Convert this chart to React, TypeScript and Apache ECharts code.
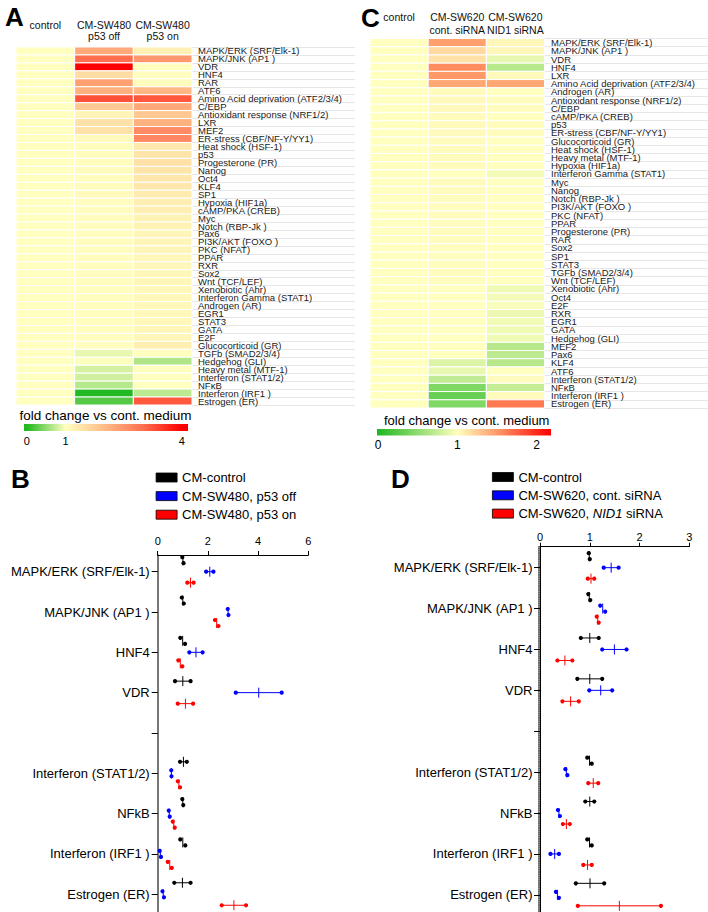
import React, { useEffect, useRef } from "react";
import * as echarts from "echarts";

const FF = '"Liberation Sans", Arial, Helvetica, sans-serif';

// ---------- Panel A (heatmap) ----------
const headersA = ["control\n ", "CM-SW480\np53 off", "CM-SW480\np53 on"];
const pathwaysA = [
  "MAPK/ERK (SRF/Elk-1)", "MAPK/JNK (AP1 )", "VDR", "HNF4", "RAR", "ATF6",
  "Amino Acid deprivation (ATF2/3/4)", "C/EBP", "Antioxidant response (NRF1/2)", "LXR", "MEF2",
  "ER-stress (CBF/NF-Y/YY1)", "Heat shock (HSF-1)", "p53", "Progesterone (PR)", "Nanog", "Oct4",
  "KLF4", "SP1", "Hypoxia (HIF1a)", "cAMP/PKA (CREB)", "Myc", "Notch (RBP-Jk )", "Pax6",
  "PI3K/AKT (FOXO )", "PKC (NFAT)", "PPAR", "RXR", "Sox2", "Wnt (TCF/LEF)", "Xenobiotic (Ahr)",
  "Interferon Gamma (STAT1)", "Androgen (AR)", "EGR1", "STAT3", "GATA", "E2F", "Glucocorticoid (GR)",
  "TGFb (SMAD2/3/4)", "Hedgehog (GLI)", "Heavy metal (MTF-1)", "Interferon (STAT1/2)", "NFκB",
  "Interferon (IRF1 )", "Estrogen (ER)"
];
const controlA = [1, 1, 1, 1, 1, 1, 1, 1, 1, 1, 1, 1, 1, 1, 1, 1, 1, 1, 1, 1, 1, 1, 1, 1, 1, 1, 1, 1, 1, 1, 1, 1, 1, 1, 1, 1, 1, 1, 1, 1, 1, 1, 1, 1, 1];
const p53offA = [2.26, 3.02, 4.0, 1.52, 2.37, 2.16, 3.29, 1.82, 1.16, 1.46, 1.46, 1.07, 1.03, 1.03, 1.03,
  1.06, 1.04, 1.06, 1.07, 1.05, 1.04, 1.04, 1.04, 1.03, 1.03, 1.04, 1.03, 1.03, 1.03, 1.03, 1.02, 1.02,
  1.02, 1.02, 1.02, 1.02, 1.02, 1.01, 0.9, 0.98, 0.81, 0.79, 0.67, 0.02, 0.24];
const p53onA = [1.22, 2.47, 1.0, 1.02, 1.04, 2.05, 3.21, 2.26, 1.82, 2.16, 2.66, 2.68, 1.34, 1.4, 1.46,
  1.4, 1.36, 1.36, 1.3, 1.25, 1.25, 1.2, 1.2, 1.15, 1.15, 1.15, 1.12, 1.12, 1.12, 1.12, 1.1, 1.1, 1.1,
  1.1, 1.1, 1.12, 1.12, 1.25, 1.02, 0.65, 1.02, 1.02, 1.0, 0.7, 3.21];
const colorTicksA = [0, 1, 4];
const stopsA: [number, string][] = [[0, "#1fb81f"], [1, "#ffffc0"], [2, "#ffbc88"], [3, "#ff7050"], [4, "#ff0000"]];

// ---------- Panel C (heatmap) ----------
const headersC = ["control\n ", "CM-SW620\ncont. siRNA", "CM-SW620\nNID1 siRNA"];
const pathwaysC = [
  "MAPK/ERK (SRF/Elk-1)", "MAPK/JNK (AP1 )", "VDR", "HNF4", "LXR", "Amino Acid deprivation (ATF2/3/4)",
  "Androgen (AR)", "Antioxidant response (NRF1/2)", "C/EBP", "cAMP/PKA (CREB)", "p53",
  "ER-stress (CBF/NF-Y/YY1)", "Glucocorticoid (GR)", "Heat shock (HSF-1)", "Heavy metal (MTF-1)",
  "Hypoxia (HIF1a)", "Interferon Gamma (STAT1)", "Myc", "Nanog", "Notch (RBP-Jk )", "PI3K/AKT (FOXO )",
  "PKC (NFAT)", "PPAR", "Progesterone (PR)", "RAR", "Sox2", "SP1", "STAT3", "TGFb (SMAD2/3/4)",
  "Wnt (TCF/LEF)", "Xenobiotic (Ahr)", "Oct4", "E2F", "RXR", "EGR1", "GATA", "Hedgehog (GLI)", "MEF2",
  "Pax6", "KLF4", "ATF6", "Interferon (STAT1/2)", "NFκB", "Interferon (IRF1 )", "Estrogen (ER)"
];
const controlC = [1, 1, 1, 1, 1, 1, 1, 1, 1, 1, 1, 1, 1, 1, 1, 1, 1, 1, 1, 1, 1, 1, 1, 1, 1, 1, 1, 1, 1, 1, 1, 1, 1, 1, 1, 1, 1, 1, 1, 1, 1, 1, 1, 1, 1];
const contSiC = [1.47, 1.19, 1.15, 1.56, 1.5, 1.43, 1.02, 1.03, 1.03, 1.02, 1.03, 1.03, 1.02, 1.02, 1.02,
  1.02, 1.0, 1.02, 1.02, 1.01, 1.01, 1.01, 1.01, 1.01, 1.01, 1.01, 1.01, 1.01, 1.01, 1.01, 1.0, 1.0, 1.0,
  1.0, 1.0, 1.0, 1.0, 1.0, 1.0, 0.84, 0.9, 0.72, 0.43, 0.32, 0.43];
const nid1SiC = [1.04, 1.04, 0.9, 0.68, 1.03, 1.43, 1.0, 1.01, 1.01, 1.0, 1.01, 1.01, 1.0, 1.0, 1.0,
  1.0, 0.95, 1.0, 1.0, 1.0, 1.0, 1.0, 1.0, 1.0, 1.0, 1.0, 1.0, 1.0, 1.0, 1.0, 0.93, 0.95, 0.97, 0.92,
  0.94, 0.93, 0.93, 0.68, 0.7, 0.68, 1.0, 1.02, 0.74, 1.02, 1.65];
const colorTicksC = [0, 1, 2];
const stopsC: [number, string][] = [[0, "#1fb81f"], [1, "#ffffc0"], [1.5, "#ff9a68"], [2.2, "#ff0000"]];

// ---------- Panel B (replicates) ----------
const catsB = ["MAPK/ERK (SRF/Elk-1)", "MAPK/JNK (AP1 )", "HNF4", "VDR", "", "Interferon (STAT1/2)", "NFkB", "Interferon (IRF1 )", "Estrogen (ER)"];
const seriesNamesB = ["CM-control", "CM-SW480, p53 off", "CM-SW480, p53 on"];
const ctrlB = [[0.98, 1.03], [0.96, 1.04], [0.9, 1.09], [0.69, 1.31], null, [0.89, 1.16], [0.98, 1.02], [0.9, 1.1], [0.66, 1.31]];
const offB = [[1.93, 2.22], [2.79, 2.82], [1.26, 1.79], [3.11, 4.94], null, [0.54, 0.55], [0.44, 0.48], [0.08, 0.13], [0.19, 0.25]];
const onB = [[1.18, 1.43], [2.28, 2.42], [0.82, 0.98], [0.8, 1.41], null, [0.8, 0.89], [0.6, 0.68], [0.4, 0.56], [2.55, 3.52]];

// ---------- Panel D (replicates) ----------
const catsD = ["MAPK/ERK (SRF/Elk-1)", "MAPK/JNK (AP1 )", "HNF4", "VDR", "", "Interferon (STAT1/2)", "NFkB", "Interferon (IRF1 )", "Estrogen (ER)"];
const seriesNamesD = ["CM-control", "CM-SW620, cont. siRNA", "CM-SW620, NID1 siRNA"];
const ctrlD = [[0.98, 1.0], [0.97, 1.01], [0.82, 1.18], [0.75, 1.25], null, [0.95, 1.04], [0.91, 1.09], [0.95, 1.04], [0.72, 1.29]];
const contD = [[1.28, 1.58], [1.21, 1.31], [1.25, 1.74], [0.99, 1.45], null, [0.51, 0.55], [0.36, 0.4], [0.21, 0.38], [0.32, 0.38]];
const nidD = [[0.96, 1.09], [1.14, 1.18], [0.35, 0.65], [0.45, 0.78], null, [0.97, 1.17], [0.46, 0.6], [0.87, 1.04], [0.76, 2.43]];

const groupColors = ["#000000", "#0000ff", "#ff0000"];

function hexToRgb(h: string) {
  const n = parseInt(h.slice(1), 16);
  return [(n >> 16) & 255, (n >> 8) & 255, n & 255];
}
function colorFor(v: number, stops: [number, string][]) {
  if (v <= stops[0][0]) return stops[0][1];
  for (let i = 1; i < stops.length; i++) {
    if (v <= stops[i][0]) {
      const t = (v - stops[i - 1][0]) / (stops[i][0] - stops[i - 1][0]);
      const a = hexToRgb(stops[i - 1][1]);
      const b = hexToRgb(stops[i][1]);
      const c = a.map((x, k) => Math.round(x + (b[k] - x) * t));
      return `rgb(${c[0]},${c[1]},${c[2]})`;
    }
  }
  return stops[stops.length - 1][1];
}

function heatData(cols: number[][]) {
  const out: any[] = [];
  cols.forEach((col, c) => {
    col.forEach((v, r) => {
      out.push([c, r, v]);
    });
  });
  return out;
}

function makeCellRender(stops: [number, string][]) {
  return (params: any, api: any) => {
    const c = api.value(0);
    const r = api.value(1);
    const v = api.value(2);
    const p = api.coord([c, r]);
    const s = api.size([1, 1]);
    return {
      type: "rect",
      shape: { x: p[0] - s[0] / 2, y: p[1] - s[1] / 2, width: s[0], height: s[1] },
      style: { fill: colorFor(v, stops), stroke: "#ffffff", lineWidth: 1 }
    };
  };
}

function repData(vals: (number[] | null)[]) {
  const out: any[] = [];
  vals.forEach((p, i) => {
    if (p) out.push([i, p[0], p[1]]);
  });
  return out;
}

function makeRepRender(offsetY: number) {
  return (params: any, api: any) => {
    const idx = api.value(0);
    const a = api.value(1);
    const b = api.value(2);
    const lo = Math.min(a, b);
    const hi = Math.max(a, b);
    const pl = api.coord([lo, idx]);
    const ph = api.coord([hi, idx]);
    const pm = api.coord([(a + b) / 2, idx]);
    const y = pl[1] + offsetY;
    const color = api.visual("color");
    const close = Math.abs(ph[0] - pl[0]) < 5.5;
    const yl = close ? y - 3 : y;
    const yh = close ? y + 3 : y;
    const children: any[] = [];
    if (!close) {
      children.push({ type: "line", shape: { x1: pl[0], y1: y, x2: ph[0], y2: y }, style: { stroke: color, lineWidth: 1 } });
    }
    children.push({ type: "line", shape: { x1: pm[0], y1: y - 5, x2: pm[0], y2: y + 5 }, style: { stroke: color, lineWidth: 1 } });
    children.push({ type: "circle", shape: { cx: pl[0], cy: yl, r: 2.1 }, style: { fill: color } });
    children.push({ type: "circle", shape: { cx: ph[0], cy: yh, r: 2.1 }, style: { fill: color } });
    return { type: "group", children };
  };
}

function colorbarRender(stops: [number, string][]) {
  return (params: any, api: any) => {
    const cs = params.coordSys;
    const stopsG = stops.map(([v, c]) => {
      const x = api.coord([v, 0])[0];
      return { offset: Math.max(0, Math.min(1, (x - cs.x) / cs.width)), color: c };
    });
    return {
      type: "rect",
      shape: { x: cs.x, y: cs.y, width: cs.width, height: cs.height },
      style: { fill: new echarts.graphic.LinearGradient(0, 0, 1, 0, stopsG) }
    };
  };
}

function txt(text: string, x: number, y: number, font: string, align = "left") {
  return { type: "text", x, y, silent: true, style: { text, font, fill: "#000", align, verticalAlign: "middle" } };
}

export default function App() {
  const ref = useRef<HTMLDivElement>(null);
  useEffect(() => {
    if (!ref.current) return;
    const chart = echarts.init(ref.current, null, { renderer: "svg" });

    const heatX = (gi: number, headers: string[], lh: number, margin: number) => ({
      type: "category", gridIndex: gi, data: headers, position: "top",
      axisLine: { show: false }, axisTick: { show: false }, splitLine: { show: false },
      axisLabel: { fontSize: 10.5, fontFamily: FF, color: "#111", lineHeight: lh, margin, interval: 0 }
    });
    const heatY = (gi: number, labels: string[], margin: number, lh: number) => ({
      type: "category", gridIndex: gi, data: labels, inverse: true, position: "right",
      axisLine: { show: false }, axisTick: { show: false }, splitLine: { show: false },
      axisLabel: { fontSize: 9.5, lineHeight: lh, fontFamily: FF, color: "#1a1a1a", margin, interval: 0 }
    });
    const lineY = (gi: number, labels: string[]) => ({
      type: "category", gridIndex: gi, data: labels, inverse: true,
      axisLine: { show: false }, axisTick: { show: false }, axisLabel: { show: false },
      splitLine: { show: true, interval: 0, lineStyle: { color: "#e6e6e6", width: 1 } }
    });
    const hiddenX = (gi: number) => ({ type: "value", gridIndex: gi, min: 0, max: 1, show: false });
    const cbarX = (gi: number, min: number, max: number, ticks: number[], fs: number, margin: number) => ({
      type: "value", gridIndex: gi, min, max, position: "bottom",
      axisLine: { show: false }, axisTick: { show: false }, splitLine: { show: false },
      axisLabel: { customValues: ticks, fontSize: fs, fontFamily: FF, color: "#000", margin, formatter: (v: number) => String(v) }
    });
    const cbarY = (gi: number) => ({ type: "value", gridIndex: gi, min: 0, max: 1, show: false });

    const repX = (gi: number, max: number, interval: number, margin: number) => ({
      type: "value", gridIndex: gi, min: 0, max, interval, position: "top",
      axisLine: { show: true, onZero: false, lineStyle: { color: "#000", width: 1 } },
      axisTick: { show: true, length: 4, lineStyle: { color: "#000" } },
      splitLine: { show: false },
      axisLabel: { fontSize: 11, fontFamily: FF, color: "#000", margin }
    });
    const repY = (gi: number, cats: string[], min: number, max: number, lineColor: string, lineWidth: number, margin: number) => ({
      type: "value", gridIndex: gi, min, max, inverse: true, position: "left",
      axisLine: { show: true, onZero: false, lineStyle: { color: lineColor, width: lineWidth } },
      axisTick: { show: true, length: 6, customValues: cats.map((_, i) => i), lineStyle: { color: "#000" } },
      splitLine: { show: false },
      axisLabel: {
        customValues: cats.map((_, i) => i), fontSize: 13, fontFamily: FF, color: "#000", margin,
        formatter: (v: number) => cats[Math.round(v)] ?? ""
      }
    });

    const option: any = {
      animation: false,
      backgroundColor: "#ffffff",
      textStyle: { fontFamily: FF },
      grid: [
        { left: 16, top: 47, width: 176, height: 358 },
        { left: 192, top: 47, width: 163, height: 358 },
        { left: 24, top: 424, width: 164, height: 7 },
        { left: 370, top: 38.5, width: 174.5, height: 369.5 },
        { left: 544.5, top: 38.5, width: 163.5, height: 369.5 },
        { left: 377, top: 429, width: 174, height: 6.5 },
        { left: 157.7, top: 555, width: 150.6, height: 357 },
        { left: 540, top: 546.7, width: 149.3, height: 365.3 }
      ],
      xAxis: [
        heatX(0, headersA, 11.5, 5),
        hiddenX(1),
        cbarX(2, -0.07, 4.16, colorTicksA, 11, 4),
        heatX(3, headersC, 13.5, 1.5),
        hiddenX(4),
        cbarX(5, -0.013, 2.18, colorTicksC, 12, 3),
        repX(6, 6, 2, 9),
        repX(7, 3, 1, 4)
      ],
      yAxis: [
        heatY(0, pathwaysA, 6, 8),
        lineY(1, pathwaysA),
        cbarY(2),
        heatY(3, pathwaysC, 6.5, 8.2),
        lineY(4, pathwaysC),
        cbarY(5),
        repY(6, catsB, -0.414, 8.44, "#555", 1.6, 8),
        repY(7, catsD, -0.513, 8.42, "#000", 1, 7.5),
        {
          type: "value", gridIndex: 7, min: 0, max: 1, position: "left", offset: 1.5,
          axisLine: { show: true, onZero: false, lineStyle: { color: "#333", width: 1.5, type: [1, 1.2] } },
          axisTick: { show: false }, axisLabel: { show: false }, splitLine: { show: false }
        }
      ],
      legend: [
        {
          data: seriesNamesB, orient: "vertical", left: 155.7, top: 470.5, padding: 0,
          itemWidth: 21, itemHeight: 9, itemGap: 4.6, icon: "rect", selectedMode: false,
          itemStyle: { borderColor: "#000", borderWidth: 0.8 },
          textStyle: { fontSize: 13, fontFamily: FF, color: "#000", lineHeight: 14 }
        },
        {
          data: seriesNamesD, orient: "vertical", left: 492, top: 470, padding: 0,
          itemWidth: 21, itemHeight: 9, itemGap: 4.3, icon: "rect", selectedMode: false,
          itemStyle: { borderColor: "#000", borderWidth: 0.8 },
          formatter: (name: string) => name.replace("NID1", "{i|NID1}"),
          textStyle: {
            fontSize: 13, fontFamily: FF, color: "#000", lineHeight: 14,
            rich: { i: { fontStyle: "italic", fontSize: 13, fontFamily: FF, color: "#000" } }
          }
        }
      ],
      series: [
        {
          type: "custom", xAxisIndex: 0, yAxisIndex: 0, encode: { x: 0, y: 1 },
          data: heatData([controlA, p53offA, p53onA]), renderItem: makeCellRender(stopsA), silent: true
        },
        { type: "scatter", xAxisIndex: 1, yAxisIndex: 1, data: [] },
        { type: "custom", xAxisIndex: 2, yAxisIndex: 2, data: [[0, 0]], renderItem: colorbarRender(stopsA), silent: true },
        {
          type: "custom", xAxisIndex: 3, yAxisIndex: 3, encode: { x: 0, y: 1 },
          data: heatData([controlC, contSiC, nid1SiC]), renderItem: makeCellRender(stopsC), silent: true
        },
        { type: "scatter", xAxisIndex: 4, yAxisIndex: 4, data: [] },
        { type: "custom", xAxisIndex: 5, yAxisIndex: 5, data: [[0, 0]], renderItem: colorbarRender(stopsC), silent: true },
        ...[ctrlB, offB, onB].map((vals, k) => ({
          type: "custom", name: seriesNamesB[k], xAxisIndex: 6, yAxisIndex: 6,
          itemStyle: { color: groupColors[k] }, encode: { x: [1, 2], y: 0 },
          data: repData(vals), renderItem: makeRepRender([-11.5, 0, 11][k]), silent: true
        })),
        ...[ctrlD, contD, nidD].map((vals, k) => ({
          type: "custom", name: seriesNamesD[k], xAxisIndex: 7, yAxisIndex: 7,
          itemStyle: { color: groupColors[k] }, encode: { x: [1, 2], y: 0 },
          data: repData(vals), renderItem: makeRepRender([-11.5, 0, 11][k]), silent: true
        }))
      ],
      graphic: [
        txt("A", 5, 16.5, `bold 26px ${FF}`),
        txt("C", 361, 17.5, `bold 26px ${FF}`),
        txt("B", 11, 479, `bold 26px ${FF}`),
        txt("D", 391, 478.5, `bold 26px ${FF}`),
        txt("fold change vs cont. medium", 105.5, 415.5, `13.5px ${FF}`, "center"),
        txt("fold change vs cont. medium", 466.7, 420.7, `13px ${FF}`, "center")
      ]
    };
    chart.setOption(option);
    return () => chart.dispose();
  }, []);
  return <div ref={ref} style={{ position: "fixed", left: 0, top: 0, width: 708, height: 912 }} />;
}
